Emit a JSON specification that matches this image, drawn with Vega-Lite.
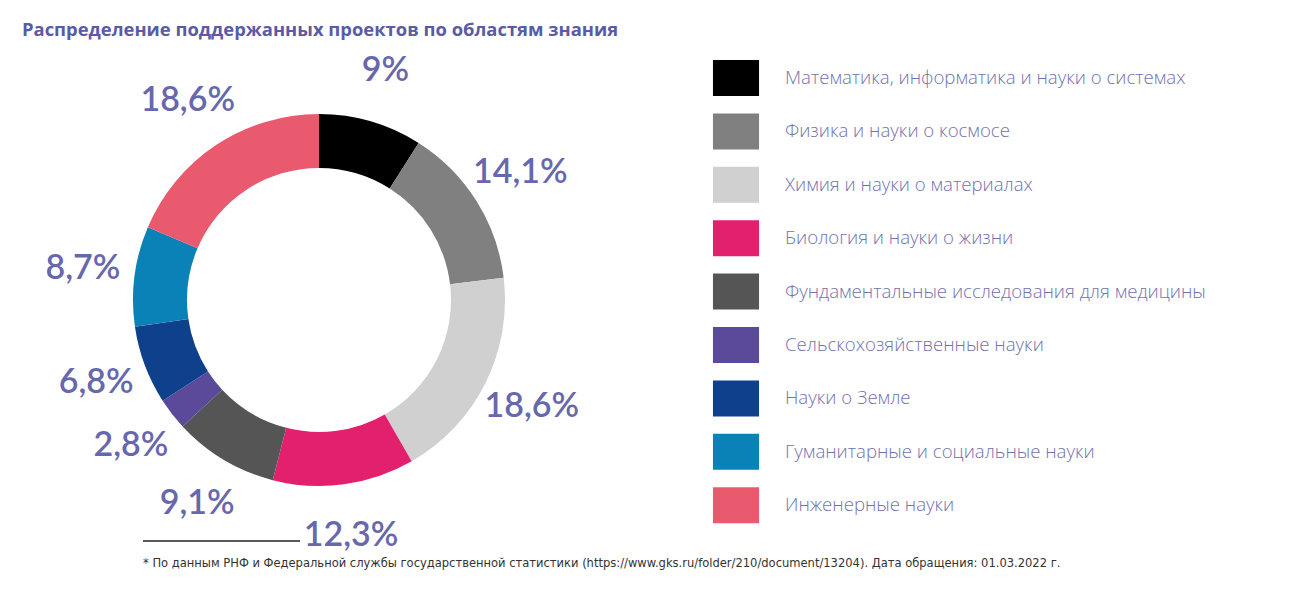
{
  "$schema": "https://vega.github.io/schema/vega-lite/v6.json",
  "width": 1294,
  "height": 600,
  "autosize": "none",
  "padding": 0,
  "background": "white",
  "config": {"view": {"stroke": null}},
  "title": {
    "text": "Распределение поддержанных проектов по областям знания",
    "anchor": "start",
    "frame": "group",
    "orient": "top",
    "offset": -39,
    "dx": 22,
    "font": "Open Sans",
    "fontSize": 18.4,
    "fontWeight": "bold",
    "color": "#5a5aa6"
  },
  "datasets": {
    "shares": [
      {"order": 1, "field": "Математика, информатика и науки о системах", "share": 9.0, "label": "9%"},
      {"order": 2, "field": "Физика и науки о космосе", "share": 14.1, "label": "14,1%"},
      {"order": 3, "field": "Химия и науки о материалах", "share": 18.6, "label": "18,6%"},
      {"order": 4, "field": "Биология и науки о жизни", "share": 12.3, "label": "12,3%"},
      {"order": 5, "field": "Фундаментальные исследования для медицины", "share": 9.1, "label": "9,1%"},
      {"order": 6, "field": "Сельскохозяйственные науки", "share": 2.8, "label": "2,8%"},
      {"order": 7, "field": "Науки о Земле", "share": 6.8, "label": "6,8%"},
      {"order": 8, "field": "Гуманитарные и социальные науки", "share": 8.7, "label": "8,7%"},
      {"order": 9, "field": "Инженерные науки", "share": 18.6, "label": "18,6%"}
    ],
    "notes": [
      {"note": "* По данным РНФ и Федеральной службы государственной статистики (https://www.gks.ru/folder/210/document/13204). Дата обращения: 01.03.2022 г."}
    ]
  },
  "layer": [
    {
      "data": {"name": "shares"},
      "mark": {"type": "arc", "outerRadius": 186, "innerRadius": 132},
      "encoding": {
        "x": {"value": 319},
        "y": {"value": 300},
        "theta": {"field": "share", "type": "quantitative", "stack": true},
        "order": {"field": "order", "type": "quantitative", "sort": "ascending"},
        "color": {
          "field": "field",
          "type": "nominal",
          "scale": {
            "domain": [
              "Математика, информатика и науки о системах",
              "Физика и науки о космосе",
              "Химия и науки о материалах",
              "Биология и науки о жизни",
              "Фундаментальные исследования для медицины",
              "Сельскохозяйственные науки",
              "Науки о Земле",
              "Гуманитарные и социальные науки",
              "Инженерные науки"
            ],
            "range": ["#000000", "#808080", "#d0d0d0", "#e2206e", "#555555", "#5b4a9a", "#0f408c", "#0a82b8", "#ea5a6e"]
          },
          "legend": {
            "orient": "none",
            "legendX": 718,
            "legendY": 60,
            "title": null,
            "symbolType": "M-1.28,-1H1.28V1H-1.28Z",
            "symbolSize": 1296,
            "symbolStrokeWidth": 0,
            "symbolOpacity": 1,
            "rowPadding": 17.4,
            "labelOffset": 31,
            "labelFont": "Open Sans",
            "labelFontSize": 18.6,
            "labelFontWeight": 300,
            "labelColor": "#7272ae",
            "labelLimit": 600
          }
        }
      }
    },
    {
      "data": {"name": "shares"},
      "mark": {"type": "text", "radius": 238, "font": "Lato", "fontSize": 34, "fontWeight": 600, "color": "#6767ad", "align": "center", "baseline": "middle"},
      "encoding": {
        "x": {"value": 319},
        "y": {"value": 300},
        "theta": {"field": "share", "type": "quantitative", "stack": true},
        "order": {"field": "order", "type": "quantitative", "sort": "ascending"},
        "text": {"field": "label", "type": "nominal"}
      }
    },
    {
      "data": {"name": "notes"},
      "mark": {"type": "rule", "stroke": "#222222", "strokeWidth": 1.5},
      "encoding": {"x": {"value": 143}, "x2": {"value": 300}, "y": {"value": 541}}
    },
    {
      "data": {"name": "notes"},
      "mark": {"type": "text", "align": "left", "baseline": "middle", "font": "DejaVu Sans Condensed", "fontSize": 12.8, "color": "#333333"},
      "encoding": {"x": {"value": 143}, "y": {"value": 563}, "text": {"field": "note", "type": "nominal"}}
    }
  ]
}
